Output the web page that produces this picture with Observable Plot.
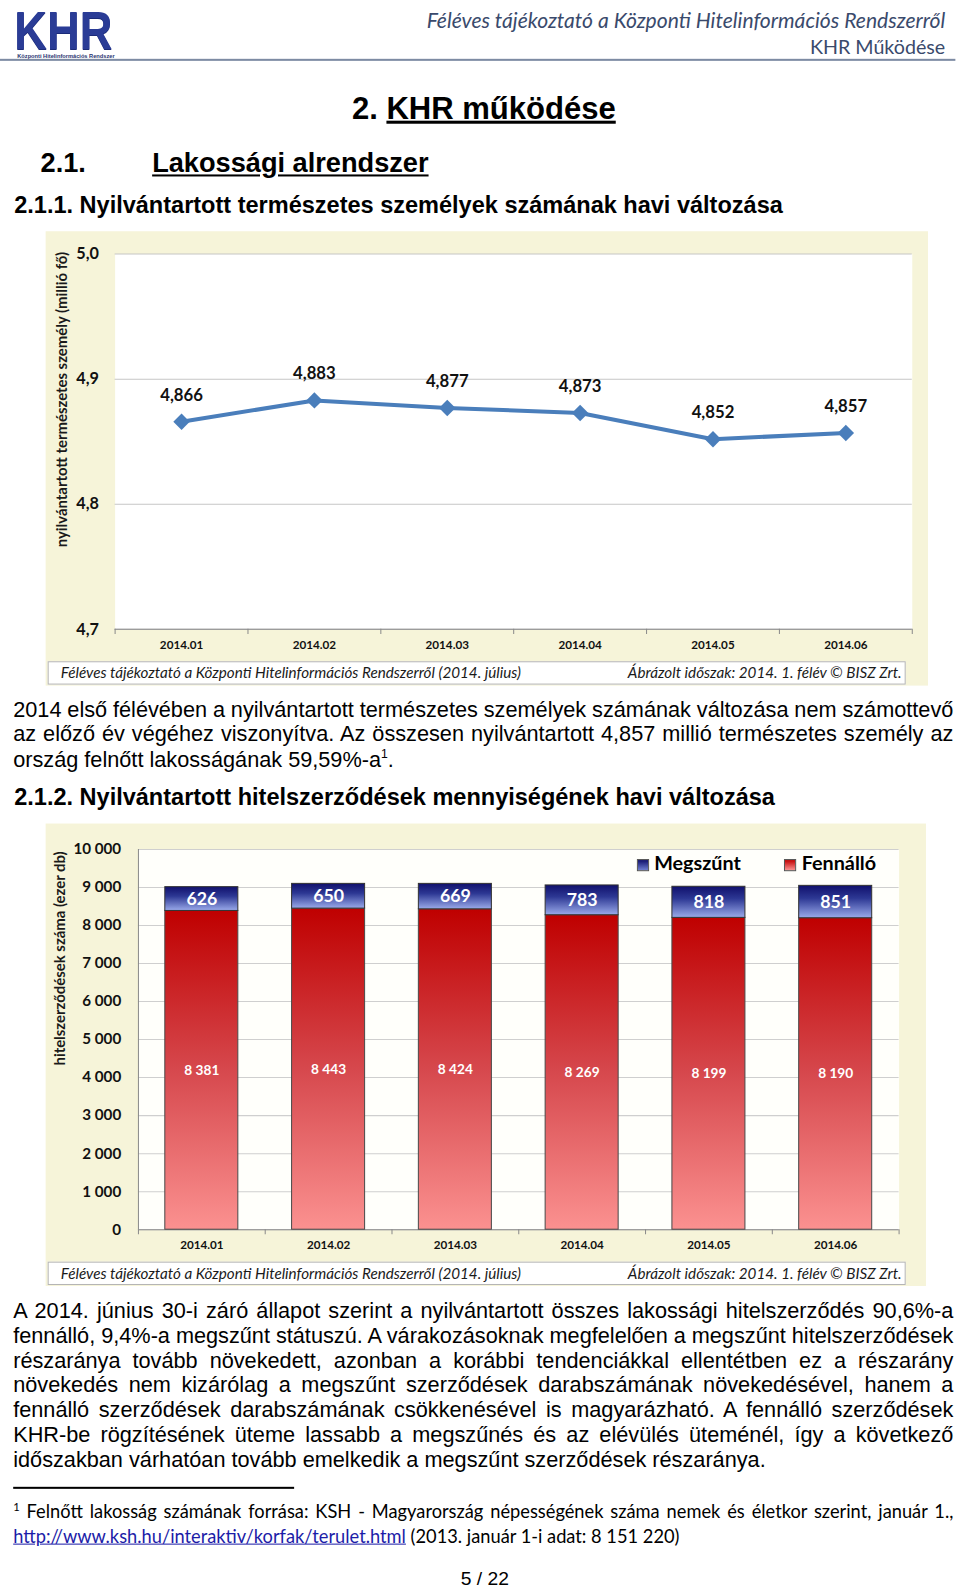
<!DOCTYPE html>
<html><head><meta charset="utf-8">
<script src="https://cdn.jsdelivr.net/npm/d3@7"></script>
<script src="https://cdn.jsdelivr.net/npm/@observablehq/plot@0.6"></script>
<style>
html,body{margin:0;width:960px;height:1589px;overflow:hidden;background:#fff}
#page{position:absolute;left:0;top:0;width:946px;height:1567px;transform-origin:0 0;transform:scale(1.0142);font-family:"Liberation Sans",Arial,sans-serif;color:#000}
.abs{position:absolute;white-space:nowrap}
.logo{left:14px;top:4.5px;font-size:52px;line-height:50px;font-weight:bold;transform-origin:0 0;transform:scaleX(0.86);color:#2a3c96;text-shadow:0 1px 0 #1a2a78}
.logosub{left:17px;top:52px;font-size:5.6px;line-height:6px;font-weight:bold;color:#2a3470}
.hdr{right:14px;font-family:Lato,sans-serif;color:#3a4a6c;line-height:24px}
.h1{left:347px;top:91px;font-size:30.6px;line-height:30px;font-weight:bold}
.h2{top:148px;font-size:26.8px;line-height:27px;font-weight:bold}
.h3{left:14px;font-size:23.2px;line-height:23px;font-weight:bold}
.para{left:13px;width:927px;font-size:21.4px;line-height:24.35px}
.para div{text-align:justify;text-align-last:justify;white-space:normal;word-spacing:-4px}
.para div.last{text-align-last:left;word-spacing:0}
.beige{background:#f6f4d9}
.cap{background:#fff;border:1px solid #b5b5b5;box-sizing:border-box;font-family:Lato,sans-serif;font-style:italic;font-size:15px;color:#1a1a1a;line-height:21px}
.ylab{font-family:Lato,sans-serif;font-weight:bold;font-size:14.7px;color:#1a1a1a;transform:translate(-50%,-50%) rotate(-90deg)}
.leg{font-family:Lato,sans-serif;font-weight:bold;font-size:19.5px;line-height:20px}
.sw{display:inline-block;width:12px;height:12px;border:1px solid #555;box-sizing:border-box;margin-right:5px;vertical-align:-1px}
.foot{left:13px;width:927px;font-family:Lato,sans-serif;font-size:18px;line-height:24px}
.foot div{text-align:justify;text-align-last:justify}
.foot div.last{text-align-last:left}
</style></head><body>
<div id="page">
<div class="abs logo">KHR</div>
<div class="abs logosub">Központi Hitelinformációs Rendszer</div>
<div class="abs hdr" style="top:8px;font-style:italic;font-size:20.8px">Féléves tájékoztató a Központi Hitelinformációs Rendszerről</div>
<div class="abs hdr" style="top:34px;font-size:19.4px">KHR Működése</div>
<div class="abs" style="left:0;top:58px;width:942px;height:2px;background:#7d8ba3"></div>

<div class="abs h1">2. <span style="text-decoration:underline">KHR működése</span></div>
<div class="abs h2" style="left:40px">2.1.</div>
<div class="abs h2" style="left:150px;text-decoration:underline">Lakossági alrendszer</div>
<div class="abs h3" style="top:191px">2.1.1. Nyilvántartott természetes személyek számának havi változása</div>

<div class="abs beige" style="left:45px;top:228px;width:870px;height:448px"></div>
<div class="abs" id="chart1" style="left:45px;top:228px"></div>
<div class="abs ylab" style="left:60px;top:394px">nyilvántartott természetes személy (millió fő)</div>
<div class="abs cap" style="left:47px;top:652px;width:846px;height:23px">
 <span style="position:absolute;left:12px">Féléves tájékoztató a Központi Hitelinformációs Rendszerről (2014. július)</span>
 <span style="position:absolute;right:3px">Ábrázolt időszak: 2014. 1. félév © BISZ Zrt.</span>
</div>

<div class="abs para" style="top:688px">
 <div>2014 első félévében a nyilvántartott természetes személyek számának változása nem számottevő</div>
 <div>az előző év végéhez viszonyítva. Az összesen nyilvántartott 4,857 millió természetes személy az</div>
 <div class="last">ország felnőtt lakosságának 59,59%-a<sup style="font-size:12px;line-height:0">1</sup>.</div>
</div>

<div class="abs h3" style="top:775px">2.1.2. Nyilvántartott hitelszerződések mennyiségének havi változása</div>

<div class="abs beige" style="left:45px;top:812px;width:868px;height:456px"></div>
<div class="abs" id="chart2" style="left:45px;top:812px"></div>
<div class="abs ylab" style="left:58px;top:945px">hitelszerződések száma (ezer db)</div>
<div class="abs leg" id="legend" style="left:628px;top:841px"></div>
<div class="abs cap" style="left:47px;top:1244px;width:846px;height:23px">
 <span style="position:absolute;left:12px">Féléves tájékoztató a Központi Hitelinformációs Rendszerről (2014. július)</span>
 <span style="position:absolute;right:3px">Ábrázolt időszak: 2014. 1. félév © BISZ Zrt.</span>
</div>

<div class="abs para" style="top:1281px">
 <div>A 2014. június 30-i záró állapot szerint a nyilvántartott összes lakossági hitelszerződés 90,6%-a</div>
 <div>fennálló, 9,4%-a megszűnt státuszú. A várakozásoknak megfelelően a megszűnt hitelszerződések</div>
 <div>részaránya tovább növekedett, azonban a korábbi tendenciákkal ellentétben ez a részarány</div>
 <div>növekedés nem kizárólag a megszűnt szerződések darabszámának növekedésével, hanem a</div>
 <div>fennálló szerződések darabszámának csökkenésével is magyarázható. A fennálló szerződések</div>
 <div>KHR-be rögzítésének üteme lassabb a megszűnés és az elévülés üteménél, így a következő</div>
 <div class="last">időszakban várhatóan tovább emelkedik a megszűnt szerződések részaránya.</div>
</div>

<div class="abs" style="left:13px;top:1466px;width:277px;height:1.5px;background:#000"></div>
<div class="abs foot" style="top:1478px">
 <div><sup style="font-size:11px;line-height:0">1</sup> Felnőtt lakosság számának forrása: KSH - Magyarország népességének száma nemek és életkor szerint, január 1.,</div>
 <div class="last"><span style="color:#1c1ca8;text-decoration:underline">http://www.ksh.hu/interaktiv/korfak/terulet.html</span> (2013. január 1-i adat: 8 151 220)</div>
</div>
<div class="abs" style="left:0;width:956px;text-align:center;top:1545px;font-size:19px;line-height:24px">5 / 22</div>
</div>

<script>
// ---- data ----
const months = ["2014.01","2014.02","2014.03","2014.04","2014.05","2014.06"];
const persons = [4.866, 4.883, 4.877, 4.873, 4.852, 4.857];
const personTicks = [4.7, 4.8, 4.9, 5.0];
const fennallo = [8381, 8443, 8424, 8269, 8199, 8190];
const megszunt = [626, 650, 669, 783, 818, 851];
const contractTicks = [0, 1000, 2000, 3000, 4000, 5000, 6000, 7000, 8000, 9000, 10000];
const seriesNames = ["Megszűnt", "Fennálló"];

const comma = d => d3.format(".3f")(d).replace(".", ",");
const spaced = d => d3.format(",")(d).replace(/,/g, " ");
const font = "Lato, sans-serif";

// ---- chart 1 ----
const lineData = months.map((m, i) => ({month: m, value: persons[i]}));
const w1 = 870, h1 = 422, ml1 = 68, mr1 = 16;
const step1 = (w1 - ml1 - mr1) / months.length;
const c1 = Plot.plot({
  width: w1, height: h1, marginLeft: ml1, marginRight: mr1, marginTop: 22, marginBottom: 30,
  style: {background: "transparent", fontFamily: font, color: "#111", overflow: "visible"},
  x: {type: "band", domain: months, padding: 0, label: null},
  y: {domain: [4.7, 5.0], label: null},
  marks: [
    Plot.frame({fill: "white", stroke: "none"}),
    Plot.gridY(personTicks, {stroke: "#c6c6c6", strokeOpacity: 1}),
    Plot.axisY(personTicks, {tickSize: 0, tickPadding: 16, tickFormat: d => d.toFixed(1).replace(".", ","), fontSize: 16, fontWeight: "bold", label: null}),
    Plot.axisX({tickSize: 0, tickPadding: 11, fontSize: 11.5, fontWeight: "bold", label: null}),
    Plot.ruleY([4.7], {stroke: "#8a8a8a"}),
    Plot.ruleX(months, {x: d => d, y1: 4.7, y2: 4.7, insetBottom: -5, dx: -step1 / 2, stroke: "#8a8a8a"}),
    Plot.ruleX(months.slice(-1), {x: d => d, y1: 4.7, y2: 4.7, insetBottom: -5, dx: step1 / 2, stroke: "#8a8a8a"}),
    Plot.line(lineData, {x: "month", y: "value", stroke: "#4a7ebb", strokeWidth: 4}),
    Plot.dot(lineData, {x: "month", y: "value", symbol: "diamond2", r: 7.3, fill: "#4a7ebb", stroke: "none"}),
    Plot.text(lineData, {x: "month", y: "value", text: d => comma(d.value), dy: -26, fontSize: 16.5, fontWeight: "bold", fill: "#111"})
  ]
});
document.getElementById("chart1").append(c1);

// ---- chart 2 ----
const barData = months.map((m, i) => ({month: m, f: fennallo[i], m: megszunt[i]}));
const w2 = 868, h2 = 431, ml2 = 91, mr2 = 27;
const step2 = (w2 - ml2 - mr2) / months.length;
const barInset = (step2 - 72) / 2;
const defs = () => {
  const ns = "http://www.w3.org/2000/svg";
  const d = document.createElementNS(ns, "defs");
  const mk = (id, stops) => {
    const g = document.createElementNS(ns, "linearGradient");
    g.setAttribute("id", id); g.setAttribute("x1", "0"); g.setAttribute("y1", "0"); g.setAttribute("x2", "0"); g.setAttribute("y2", "1");
    for (const [o, c] of stops) {
      const s = document.createElementNS(ns, "stop");
      s.setAttribute("offset", o); s.setAttribute("stop-color", c); g.append(s);
    }
    d.append(g);
  };
  mk("gRed", [[0, "#bf0000"], [0.5, "#d6484d"], [1, "#fb9190"]]);
  mk("gBlue", [[0, "#10106c"], [0.4, "#2d3894"], [1, "#9aaaea"]]);
  return d;
};
const c2 = Plot.plot({
  width: w2, height: h2, marginLeft: ml2, marginRight: mr2, marginTop: 25, marginBottom: 31,
  style: {background: "transparent", fontFamily: font, color: "#111", overflow: "visible"},
  x: {type: "band", domain: months, padding: 0, label: null},
  y: {domain: [0, 10000], label: null},
  marks: [
    defs,
    Plot.frame({fill: "#fffffb", stroke: "none"}),
    Plot.gridY(contractTicks, {stroke: "#cfcfcf", strokeOpacity: 1}),
    Plot.axisY(contractTicks, {tickSize: 0, tickPadding: 17, tickFormat: spaced, fontSize: 15, fontWeight: "bold", label: null}),
    Plot.axisX({tickSize: 0, tickPadding: 11, fontSize: 11.5, fontWeight: "bold", label: null}),
    Plot.ruleX(months.slice(0, 1), {x: d => d, dx: -step2 / 2, stroke: "#8a8a8a"}),
    Plot.ruleY([0], {stroke: "#8a8a8a"}),
    Plot.ruleX(months, {x: d => d, y1: 0, y2: 0, insetBottom: -5, dx: -step2 / 2, stroke: "#8a8a8a"}),
    Plot.ruleX(months.slice(-1), {x: d => d, y1: 0, y2: 0, insetBottom: -5, dx: step2 / 2, stroke: "#8a8a8a"}),
    Plot.barY(barData, {x: "month", y1: 0, y2: "f", fill: "url(#gRed)", stroke: "#4a4a4a", strokeWidth: 1, insetLeft: barInset, insetRight: barInset}),
    Plot.barY(barData, {x: "month", y1: "f", y2: d => d.f + d.m, fill: "url(#gBlue)", stroke: "#333", strokeWidth: 1, insetLeft: barInset, insetRight: barInset}),
    Plot.text(barData, {x: "month", y: d => d.f + d.m / 2, text: d => spaced(d.m), fill: "white", fontSize: 17.5, fontWeight: "bold"}),
    Plot.text(barData, {x: "month", y: d => d.f / 2, text: d => spaced(d.f), fill: "white", fontSize: 13.5, fontWeight: "bold"})
  ]
});
document.getElementById("chart2").append(c2);

// legend
const sw = {"Megszűnt": "linear-gradient(180deg,#10106c,#6f7fd0)", "Fennálló": "linear-gradient(180deg,#c00000,#fb9190)"};
const leg = document.getElementById("legend");
seriesNames.forEach((s, i) => {
  const span = document.createElement("span");
  span.style.marginRight = i === 0 ? "43px" : "0";
  span.innerHTML = `<span class="sw" style="background:${sw[s]}"></span>${s}`;
  leg.append(span);
});
</script>
</body></html>
